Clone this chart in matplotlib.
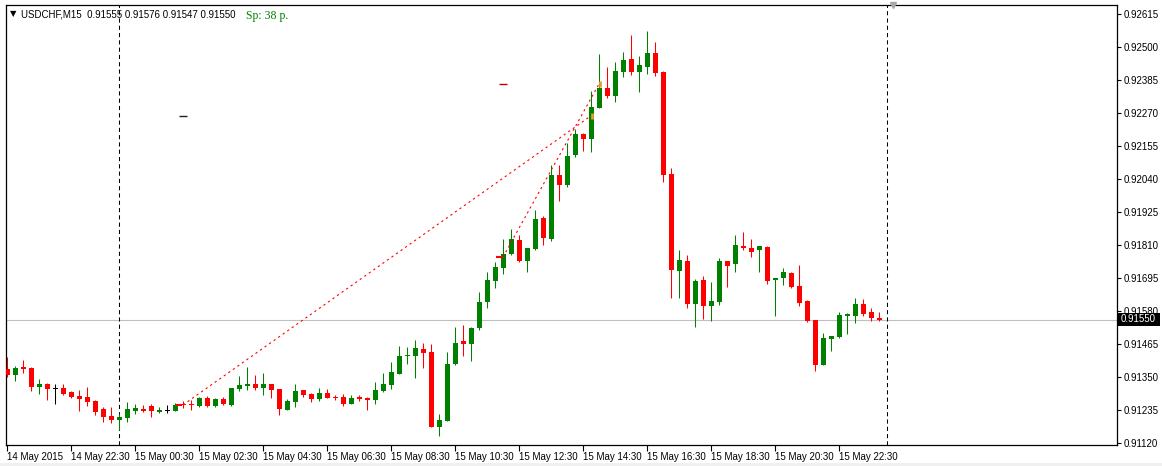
import numpy as np
import matplotlib
matplotlib.use("Agg")
import matplotlib.pyplot as plt
from matplotlib.patches import Rectangle

# USDCHF M15, 15-minute bars from 14 May 2015 20:30 to 15 May 23:45
opens = [0.91378, 0.91357, 0.91385, 0.91381, 0.91315, 0.91326, 0.91309, 0.91312, 0.91298, 0.91284,
         0.91281, 0.91267, 0.91239, 0.91214, 0.91200, 0.91207, 0.91232, 0.91239, 0.91249, 0.91228,
         0.91235, 0.91232, 0.91256, 0.91256, 0.91249, 0.91277, 0.91249, 0.91274, 0.91253, 0.91309,
         0.91319, 0.91326, 0.91312, 0.91326, 0.91309, 0.91235, 0.91263, 0.91305, 0.91291, 0.91274,
         0.91295, 0.91281, 0.91281, 0.91256, 0.91281, 0.91277, 0.91270, 0.91302, 0.91323, 0.91361,
         0.91424, 0.91424, 0.91448, 0.91437, 0.91176, 0.91197, 0.91396, 0.91476, 0.91465, 0.91521,
         0.91612, 0.91685, 0.91730, 0.91779, 0.91828, 0.91755, 0.91796, 0.91904, 0.91831, 0.92055,
         0.92020, 0.92125, 0.92197, 0.92180, 0.92288, 0.92357, 0.92330, 0.92413, 0.92458, 0.92413,
         0.92431, 0.92479, 0.92413, 0.92058, 0.91720, 0.91755, 0.91605, 0.91688, 0.91598, 0.91612,
         0.91755, 0.91744, 0.91807, 0.91800, 0.91793, 0.91803, 0.91688, 0.91695, 0.91713, 0.91667,
         0.91616, 0.91549, 0.91392, 0.91483, 0.91490, 0.91563, 0.91563, 0.91605, 0.91577, 0.91555]
highs = [0.91420, 0.91388, 0.91409, 0.91385, 0.91343, 0.91329, 0.91326, 0.91326, 0.91302, 0.91305,
         0.91315, 0.91270, 0.91246, 0.91246, 0.91221, 0.91263, 0.91256, 0.91253, 0.91256, 0.91246,
         0.91253, 0.91260, 0.91267, 0.91270, 0.91281, 0.91284, 0.91277, 0.91281, 0.91312, 0.91354,
         0.91385, 0.91357, 0.91364, 0.91326, 0.91309, 0.91274, 0.91326, 0.91305, 0.91295, 0.91312,
         0.91309, 0.91288, 0.91291, 0.91288, 0.91288, 0.91281, 0.91333, 0.91364, 0.91403, 0.91458,
         0.91455, 0.91479, 0.91469, 0.91465, 0.91221, 0.91437, 0.91525, 0.91532, 0.91525, 0.91647,
         0.91716, 0.91751, 0.91831, 0.91866, 0.91845, 0.91800, 0.91932, 0.91911, 0.92090, 0.92090,
         0.92166, 0.92215, 0.92201, 0.92347, 0.92476, 0.92431, 0.92448, 0.92483, 0.92542, 0.92469,
         0.92556, 0.92518, 0.92417, 0.92079, 0.91793, 0.91776, 0.91692, 0.91702, 0.91681, 0.91765,
         0.91755, 0.91845, 0.91856, 0.91831, 0.91807, 0.91807, 0.91695, 0.91730, 0.91716, 0.91741,
         0.91619, 0.91549, 0.91504, 0.91493, 0.91577, 0.91573, 0.91626, 0.91623, 0.91591, 0.91576]
lows = [0.91350, 0.91337, 0.91364, 0.91302, 0.91291, 0.91270, 0.91256, 0.91288, 0.91277, 0.91232,
        0.91249, 0.91218, 0.91193, 0.91190, 0.91166, 0.91193, 0.91221, 0.91228, 0.91211, 0.91225,
        0.91225, 0.91232, 0.91242, 0.91235, 0.91246, 0.91246, 0.91246, 0.91253, 0.91249, 0.91302,
        0.91305, 0.91305, 0.91288, 0.91277, 0.91218, 0.91235, 0.91246, 0.91281, 0.91263, 0.91267,
        0.91277, 0.91270, 0.91249, 0.91256, 0.91267, 0.91235, 0.91256, 0.91298, 0.91309, 0.91361,
        0.91396, 0.91347, 0.91382, 0.91176, 0.91145, 0.91197, 0.91392, 0.91424, 0.91406, 0.91514,
        0.91591, 0.91660, 0.91709, 0.91775, 0.91751, 0.91716, 0.91793, 0.91810, 0.91824, 0.91964,
        0.92013, 0.92118, 0.92138, 0.92134, 0.92288, 0.92323, 0.92309, 0.92396, 0.92403, 0.92343,
        0.92406, 0.92399, 0.92030, 0.91626, 0.91626, 0.91591, 0.91525, 0.91553, 0.91546, 0.91602,
        0.91664, 0.91716, 0.91793, 0.91769, 0.91716, 0.91674, 0.91563, 0.91671, 0.91660, 0.91598,
        0.91542, 0.91371, 0.91392, 0.91441, 0.91486, 0.91500, 0.91539, 0.91563, 0.91546, 0.91547]
closes = [0.91357, 0.91381, 0.91378, 0.91315, 0.91326, 0.91309, 0.91309, 0.91291, 0.91281, 0.91274,
          0.91263, 0.91228, 0.91211, 0.91200, 0.91211, 0.91239, 0.91242, 0.91232, 0.91232, 0.91235,
          0.91235, 0.91253, 0.91253, 0.91253, 0.91277, 0.91249, 0.91274, 0.91256, 0.91312, 0.91323,
          0.91326, 0.91312, 0.91326, 0.91305, 0.91239, 0.91267, 0.91302, 0.91288, 0.91274, 0.91295,
          0.91277, 0.91277, 0.91256, 0.91277, 0.91274, 0.91270, 0.91305, 0.91326, 0.91368, 0.91424,
          0.91427, 0.91451, 0.91434, 0.91176, 0.91200, 0.91396, 0.91469, 0.91465, 0.91521, 0.91612,
          0.91688, 0.91734, 0.91779, 0.91831, 0.91755, 0.91800, 0.91901, 0.91835, 0.92055, 0.92020,
          0.92121, 0.92197, 0.92180, 0.92291, 0.92357, 0.92330, 0.92417, 0.92455, 0.92413, 0.92438,
          0.92479, 0.92410, 0.92055, 0.91723, 0.91758, 0.91605, 0.91685, 0.91598, 0.91616, 0.91755,
          0.91737, 0.91810, 0.91800, 0.91786, 0.91807, 0.91685, 0.91695, 0.91716, 0.91664, 0.91608,
          0.91546, 0.91392, 0.91486, 0.91493, 0.91566, 0.91570, 0.91605, 0.91570, 0.91556, 0.91550]

# price scale on the right
y_ticks = [0.91120, 0.91235, 0.91350, 0.91465, 0.91580, 0.91695, 0.91810,
           0.91925, 0.92040, 0.92155, 0.92270, 0.92385, 0.92500, 0.92615]

# time scale: a label every 8 bars
x_tick_bars = [0, 8, 16, 24, 32, 40, 48, 56, 64, 72, 80, 88, 96, 104]
x_tick_labels = ["14 May 2015", "14 May 22:30", "15 May 00:30", "15 May 02:30",
                 "15 May 04:30", "15 May 06:30", "15 May 08:30", "15 May 10:30",
                 "15 May 12:30", "15 May 14:30", "15 May 16:30", "15 May 18:30",
                 "15 May 20:30", "15 May 22:30"]
day_breaks = [14, 110]          # 15 May 00:00 and 16 May 00:00

# trade history (open bar, open price) -> (close bar, close price)
trade_open_bar = [22, 62]
trade_open_price = [0.91253, 0.91768]
trade_close_bar = [73, 74]
trade_close_price = [0.92260, 0.92371]

bid = closes[-1]
spread = 38

plt.rcParams['font.family'] = ['Liberation Sans', 'DejaVu Sans']
FS = 7

W, H = 1162, 466
fig = plt.figure(figsize=(W / 100, H / 100), dpi=100)
fig.patch.set_facecolor('white')
ax = fig.add_axes([6 / W, 21 / H, 1111 / W, 440 / H])

o = np.array(opens)
c = np.array(closes)
x = np.arange(len(o))
cols = np.where(c > o, '#008000', np.where(c < o, '#ff0000', '#000000'))

# wicks and bodies
ax.vlines(x, lows, highs, colors=cols, linewidth=0.75, zorder=2)
body_lo = np.minimum(o, c)
body_h = np.maximum(np.abs(c - o), 0.00004)
ax.bar(x, body_h, bottom=body_lo - np.where(c == o, 0.00002, 0), width=0.625,
       color=cols, linewidth=0, zorder=3)

# bid line
ax.axhline(bid, color='#c0c0c0', linewidth=0.8, zorder=1)

# day separators
for b in day_breaks:
    ax.axvline(b, color='black', linewidth=0.75, linestyle=(0, (4, 3)), zorder=1)

# trade lines
for i in range(len(trade_open_bar)):
    ax.plot([trade_open_bar[i], trade_close_bar[i]],
            [trade_open_price[i], trade_close_price[i]],
            color='#ff0000', linewidth=0.8, linestyle=(0, (2, 3)), zorder=4)
    ax.plot(trade_open_bar[i] - 0.5, trade_open_price[i], marker='_', color='#ff0000',
            markersize=4, markeredgewidth=1.5, zorder=4)
    ax.plot(trade_close_bar[i] + 0.1, trade_close_price[i], marker='|', color='#daa520',
            markersize=5, markeredgewidth=2, zorder=4)
    ax.hlines(trade_close_price[i], trade_open_bar[i] - 0.45, trade_open_bar[i] + 0.45,
              color='#202020' if i == 0 else '#c00000', linewidth=1, zorder=4)

ax.set_xlim(-0.125, 138.75)
ax.set_ylim(0.911134, 0.92646)

ax.yaxis.tick_right()
ax.set_yticks(y_ticks)
ax.set_yticklabels([f"{v:.5f}" for v in y_ticks])
ax.tick_params(axis='y', direction='out', length=3, width=0.8, labelsize=FS, pad=2)

ax.set_xticks(x_tick_bars)
ax.set_xticklabels(x_tick_labels, ha='left')
ax.tick_params(axis='x', direction='out', length=4, width=0.8, labelsize=FS, pad=1)

for s in ax.spines.values():
    s.set_linewidth(0.9)
    s.set_color('black')

# shift marker at the top
ax.plot(110.75, 1.0, marker='v', color='#a8a8a8', markersize=5,
        transform=ax.get_xaxis_transform(), clip_on=False, zorder=5)

# header
fig.text(10 / W, 1 - 14 / H, "\u25bc", fontsize=6, va='center', family='DejaVu Sans')
fig.text(21 / W, 1 - 14.5 / H,
         f"USDCHF,M15  {opens[-1]:.5f} {highs[-1]:.5f} {lows[-1]:.5f} {closes[-1]:.5f}",
         fontsize=FS, va='center')
fig.text(246 / W, 1 - 15.5 / H, f"Sp: {spread} p.", fontsize=8.5, va='center',
         color='#008000', family='Liberation Serif')

# current price label
fig.patches.append(Rectangle((1118 / W, 1 - 326 / H), 42 / W, 13 / H,
                             transform=fig.transFigure, facecolor='black',
                             edgecolor='none', zorder=5))
fig.text(1121 / W, 1 - 319.5 / H, f"{bid:.5f}", fontsize=FS, va='center',
         color='white', zorder=6)

# bottom strip
fig.patches.append(Rectangle((0, 0), 1, 3 / H, transform=fig.transFigure,
                             facecolor='#f0f0f0', edgecolor='none'))

fig.savefig("out.png", dpi=100)
